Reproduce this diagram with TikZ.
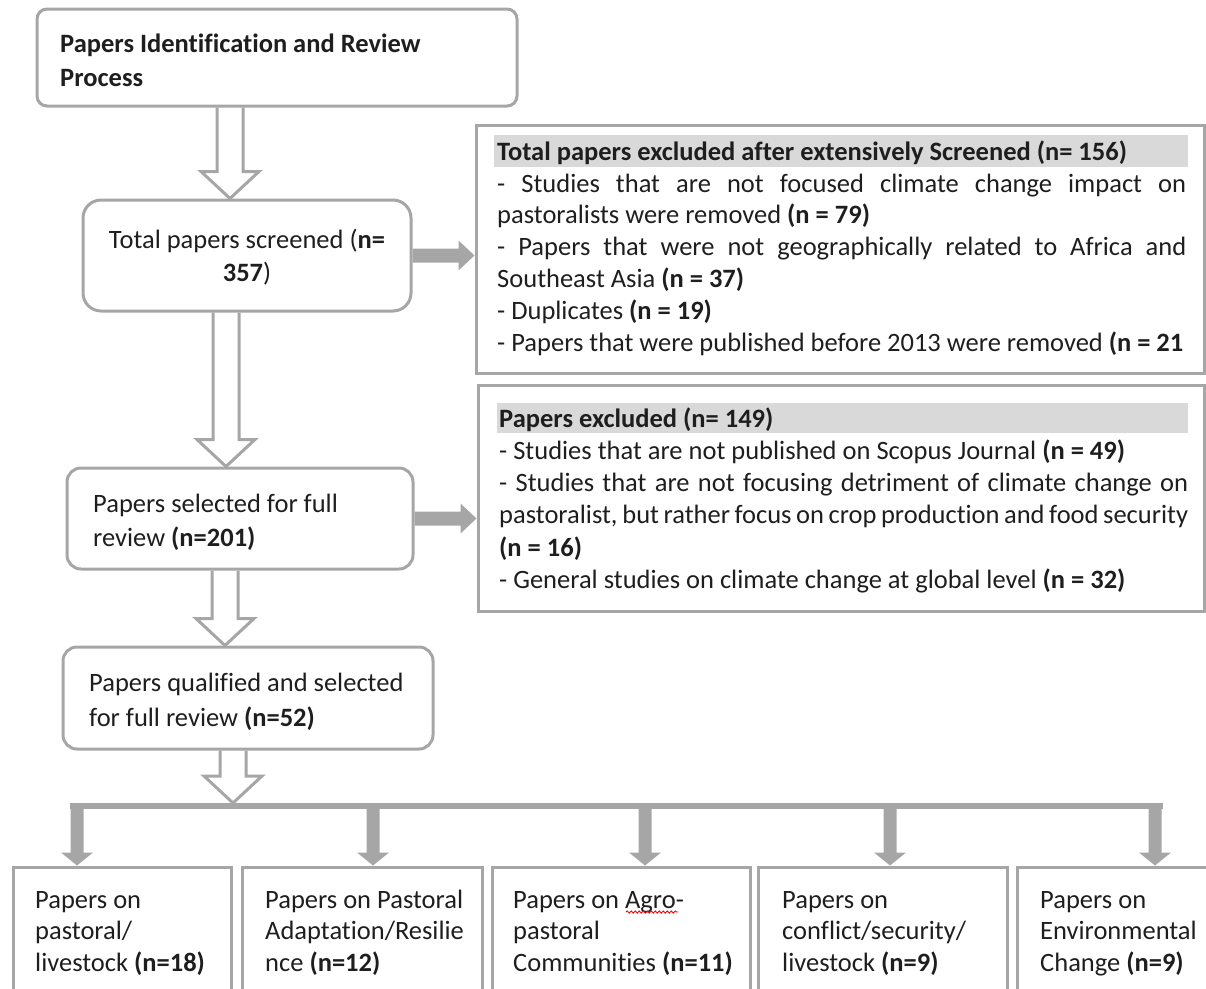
\documentclass[tikz,border=0pt]{standalone}
\usepackage{fontspec}
\setmainfont{Carlito}[Ligatures={NoCommon}]
\usetikzlibrary{calc,decorations.pathmorphing}
\definecolor{lgray}{HTML}{A6A6A6}
\definecolor{hdr}{HTML}{D9D9D9}
\definecolor{ink}{HTML}{1E1E1E}
\pgfdeclarelayer{bg}
\pgfsetlayers{bg,main}
\newcommand\st{\rule{0pt}{22pt}}
% hollow block arrow: x, from, to
\newcommand\hollowarrow[3]{%
  \path (#1,0 |- #2) coordinate (hT) (#1,0 |- #3) coordinate (hB);
  \draw[hollow] ($(hT)+(-13,0)$) -- ($(hB)+(-13,-27)$) -- ($(hB)+(-29,-27)$) -- (hB)
     -- ($(hB)+(29,-27)$) -- ($(hB)+(13,-27)$) -- ($(hT)+(13,0)$);
}
% gray arrow to the right: from node, to node
\newcommand\grayarrowR[2]{%
  \path (#1.east) coordinate (gS) (#2.west |- #1.east) coordinate (gE);
  \fill[lgray] ($(gS)+(0,-7)$) -- ($(gE)+(-16,-7)$) -- ($(gE)+(-16,-15)$) -- (gE)
     -- ($(gE)+(-16,15)$) -- ($(gE)+(-16,7)$) -- ($(gS)+(0,7)$) -- cycle;
}
% gray arrow down from the bar: x, to node
\newcommand\grayarrowD[2]{%
  \path (#1,0 |- barL) coordinate (dT) (#1,0 |- #2.north) coordinate (dB);
  \fill[lgray] ($(dT)+(-6.5,-3)$) -- ($(dB)+(-6.5,-13)$) -- ($(dB)+(-16,-13)$) -- (dB)
     -- ($(dB)+(16,-13)$) -- ($(dB)+(6.5,-13)$) -- ($(dT)+(6.5,-3)$) -- cycle;
}
\begin{document}
\begin{tikzpicture}[x=1pt,y=-1pt,
  rbox/.style={draw=lgray, line width=3pt, rounded corners=14pt, inner sep=0pt},
  sbox/.style={draw=lgray, line width=3pt, inner sep=0pt},
  hollow/.style={draw=lgray, line width=3pt, fill=white, line join=miter},
  txt/.style={inner sep=0pt, anchor=north west, align=left, text=ink},
  lfont/.style={font=\fontsize{26.5}{34}\selectfont},
  rfont/.style={font=\fontsize{26.5}{31.8}\selectfont},
  bfont/.style={font=\fontsize{26.5}{31.5}\selectfont}]
\useasboundingbox (0,0) rectangle (1206,988);

% left column boxes
\node[rbox, rounded corners=10pt, minimum width=480pt, minimum height=97pt] (b1) at (277,57.5) {};
\node[rbox, rounded corners=18pt, minimum width=328pt, minimum height=111pt] (b2) at (247,255.5) {};
\node[rbox, minimum width=346pt, minimum height=101pt] (b3) at (240,518.5) {};
\node[rbox, minimum width=370pt, minimum height=102pt] (b4) at (248,698) {};

\node[txt, lfont] (b1t) at (60,30) {\st\textbf{Papers Identification and Review}\\\textbf{Process}};
\node[txt, anchor=north, align=center, font=\fontsize{26.5}{33}\selectfont] (b2t) at (247,226) {\st Total papers screened (\textbf{n=}\\\textbf{357})};
\node[txt, lfont] (b3t) at (93,490) {\st Papers selected for full\\review \textbf{(n=201)}};
\node[txt, font=\fontsize{26.5}{35}\selectfont] (b4t) at (89,669) {\st Papers qualified and selected\\for full review \textbf{(n=52)}};

% right exclusion boxes
\node[sbox, minimum width=728pt, minimum height=248pt] (r1) at (840,249) {};
\node[sbox, minimum width=726pt, minimum height=226pt] (r2) at (841,498) {};
\fill[hdr] (494,135) rectangle (1188,167);
\fill[hdr] (497,403) rectangle (1188,433);

\node[txt, rfont] (r1t) at (497,138) {\st\textbf{Total papers excluded after extensively Screened (n= 156)}\\
\makebox[689pt][s]{- Studies that are not focused climate change impact on}\\
pastoralists were removed \textbf{(n = 79)}\\
\makebox[689pt][s]{- Papers that were not geographically related to Africa and}\\
Southeast Asia \textbf{(n = 37)}\\
- Duplicates \textbf{(n = 19)}\\
- Papers that were published before 2013 were removed \textbf{(n = 21}};

\node[txt, font=\fontsize{26.5}{32.2}\selectfont] (r2t) at (499,405) {\st\textbf{Papers excluded (n= 149)}\\
- Studies that are not published on Scopus Journal \textbf{(n = 49)}\\
\makebox[689pt][s]{- Studies that are not focusing detriment of climate change on}\\
\makebox[689pt][s]{pastoralist, but rather focus on crop production and food security}\\
\textbf{(n = 16)}\\
- General studies on climate change at global level \textbf{(n = 32)}};

% bottom category boxes
\node[sbox, minimum width=218pt, minimum height=143pt] (cA) at (122,938.5) {};
\node[sbox, minimum width=240pt, minimum height=143pt] (cB) at (362,938.5) {};
\node[sbox, minimum width=258pt, minimum height=143pt] (cC) at (621,938.5) {};
\node[sbox, minimum width=249pt, minimum height=143pt] (cD) at (882.5,938.5) {};
\node[sbox, minimum width=197pt, minimum height=143pt] (cE) at (1115.5,938.5) {};

\node[txt, bfont] (cAt) at (35,886) {\st Papers on\\pastoral/\\livestock \textbf{(n=18)}};
\node[txt, bfont] (cBt) at (265,886) {\st Papers on Pastoral\\Adaptation/Resilie\\nce \textbf{(n=12)}};
\node[txt, bfont] (cCt) at (513,886) {\st Papers on Agro-\\pastoral\\Communities \textbf{(n=11)}};
\node[txt, bfont] (cDt) at (782,886) {\st Papers on\\conflict/security/\\livestock \textbf{(n=9)}};
\node[txt, bfont] (cEt) at (1040,886) {\st Papers on\\Environmental\\Change \textbf{(n=9)}};
\draw[red, line width=0.9pt, decorate, decoration={snake, amplitude=1.1pt, segment length=4pt}] (626,912) -- (678,912);

% connectors
\coordinate (barL) at (70,806);
\coordinate (barR) at (1163,806);
\coordinate (hub) at (233,803);
\begin{pgfonlayer}{bg}
  \hollowarrow{230}{b1.south}{b2.north}
  \hollowarrow{226}{b2.south}{b3.north}
  \hollowarrow{225}{b3.south}{b4.north}
  \hollowarrow{233}{b4.south}{hub}
  \grayarrowR{b2}{r1}
  \grayarrowR{b3}{r2}
  \fill[lgray] ($(barL)+(0,-3)$) rectangle ($(barR)+(0,3)$);
  \grayarrowD{77}{cA}
  \grayarrowD{373}{cB}
  \grayarrowD{645}{cC}
  \grayarrowD{890}{cD}
  \grayarrowD{1155}{cE}
\end{pgfonlayer}
\end{tikzpicture}
\end{document}
